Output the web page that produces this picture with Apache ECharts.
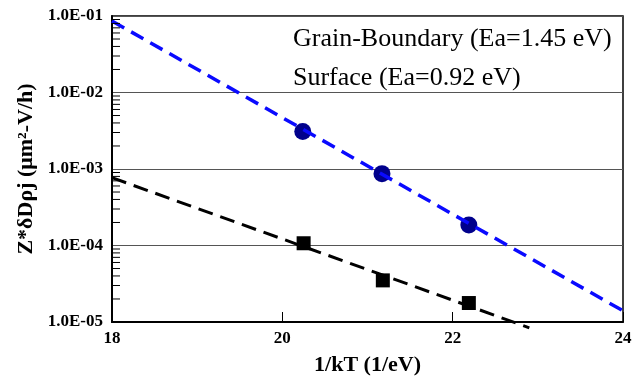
<!DOCTYPE html>
<html>
<head>
<meta charset="utf-8">
<script src="https://cdn.jsdelivr.net/npm/echarts@6/dist/echarts.min.js"></script>
<style>
  html, body { margin: 0; padding: 0; background: #fff; }
  #chart { width: 644px; height: 381px; }
</style>
</head>
<body>
<div id="chart"></div>
<script>
// Arrhenius plot: grain-boundary vs surface
const gbX = [20.24, 21.17, 22.19]
const gbY = [3.1e-3, 8.7e-4, 1.85e-4]
const surfX = [20.25, 21.18, 22.19]
const surfY = [1.07e-4, 3.5e-5, 1.77e-5]

// fitted lines (ends)
const gbFitX = [18, 24]
const gbFitY = [8.6e-2, 1.4e-5]
const surfFitX = [18, 22.9]
const surfFitY = [7.7e-4, 8.4e-6]

const yTickLabels = ['1.0E-05', '1.0E-04', '1.0E-03', '1.0E-02', '1.0E-01'] // 10^-5 .. 10^-1
const decades = [1e-5, 1e-4, 1e-3, 1e-2]
const mantissas = [2, 3, 4, 5, 6, 7, 8, 9]

const serif = 'Liberation Serif'

function pairs(xs, ys) {
  return xs.map((x, i) => [x, ys[i]])
}

const minorTicks = []
decades.forEach(d => mantissas.forEach(m => minorTicks.push([18, d * m])))

const chart = echarts.init(document.getElementById('chart'))

chart.setOption({
  animation: false,
  grid: {
    left: 112,
    right: 21,
    top: 16,
    bottom: 58,
    show: true,
    borderColor: '#000',
    borderWidth: 1.5
  },
  xAxis: {
    type: 'value',
    min: 18,
    max: 24,
    interval: 2,
    name: '1/kT (1/eV)',
    nameLocation: 'middle',
    nameGap: 32,
    nameTextStyle: { fontFamily: serif, fontWeight: 'bold', fontSize: 22, color: '#000' },
    axisLine: { lineStyle: { color: '#000', width: 2 } },
    axisTick: { inside: true, length: 10, lineStyle: { color: '#000' } },
    axisLabel: { margin: 8, fontFamily: serif, fontWeight: 'bold', fontSize: 17, color: '#000' },
    splitLine: { show: false }
  },
  yAxis: {
    type: 'log',
    logBase: 10,
    min: 1e-5,
    max: 1e-1,
    name: 'Z*δDρj (μm²-V/h)',
    nameLocation: 'middle',
    nameGap: 74,
    nameTextStyle: { fontFamily: serif, fontWeight: 'bold', fontSize: 22, color: '#000' },
    axisLine: { lineStyle: { color: '#000', width: 2 } },
    axisTick: { show: false },
    axisLabel: {
      margin: 9,
      fontFamily: serif,
      fontWeight: 'bold',
      fontSize: 17,
      color: '#000',
      formatter: v => yTickLabels[Math.round(Math.log10(v)) + 5]
    },
    splitLine: { lineStyle: { color: '#555', width: 1 } }
  },
  graphic: [
    {
      type: 'text', x: 293, y: 39, z: 10,
      style: { text: 'Grain-Boundary (Ea=1.45 eV)', font: '26px "Liberation Serif"', fill: '#000', verticalAlign: 'middle' }
    },
    {
      type: 'text', x: 293, y: 78, z: 10,
      style: { text: 'Surface (Ea=0.92 eV)', font: '26px "Liberation Serif"', fill: '#000', verticalAlign: 'middle' }
    }
  ],
  series: [
    {
      name: 'Grain-Boundary',
      type: 'scatter',
      data: pairs(gbX, gbY),
      symbol: 'circle',
      symbolSize: 17,
      itemStyle: { color: '#00008c', opacity: 1 },
      z: 2
    },
    {
      name: 'Surface',
      type: 'scatter',
      data: pairs(surfX, surfY),
      symbol: 'rect',
      symbolSize: 14,
      itemStyle: { color: '#000', opacity: 1 },
      z: 2
    },
    {
      name: 'GB fit',
      type: 'line',
      data: pairs(gbFitX, gbFitY),
      showSymbol: false,
      symbol: 'none',
      clip: false,
      lineStyle: { color: '#0a0aff', width: 3.5, type: [14, 8] },
      z: 3
    },
    {
      name: 'Surface fit',
      type: 'line',
      data: pairs(surfFitX, surfFitY),
      showSymbol: false,
      symbol: 'none',
      clip: false,
      lineStyle: { color: '#000', width: 3, type: [15, 8] },
      z: 3
    },
    {
      // log minor ticks on the left axis
      type: 'custom',
      data: minorTicks,
      silent: true,
      z: 4,
      renderItem: (params, api) => {
        const p = api.coord([api.value(0), api.value(1)])
        return {
          type: 'line',
          shape: { x1: p[0], y1: p[1], x2: p[0] + 8, y2: p[1] },
          style: { stroke: '#000', lineWidth: 1 }
        }
      }
    }
  ]
})
</script>
</body>
</html>
